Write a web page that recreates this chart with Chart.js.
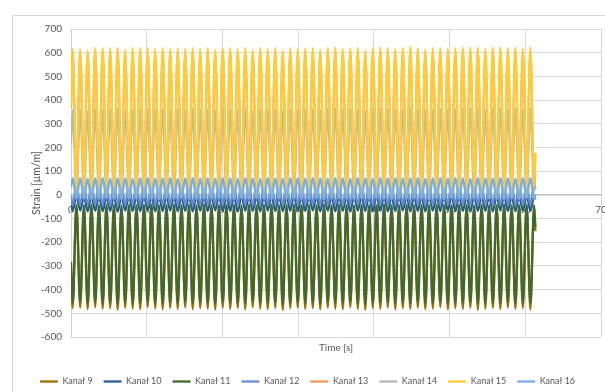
<!DOCTYPE html>
<html>
<head>
<meta charset="utf-8">
<script src="https://cdn.jsdelivr.net/npm/chart.js@4"></script>
<style>
  html, body { margin: 0; padding: 0; background: #fff; }
</style>
</head>
<body>
<canvas id="myChart" width="605" height="392"></canvas>
<script>
// channel names, legend order
const channels = ['Kanał 9', 'Kanał 10', 'Kanał 11', 'Kanał 12', 'Kanał 13', 'Kanał 14', 'Kanał 15', 'Kanał 16'];
const colors = ['#997300', '#255E91', '#43682B', '#698ED0', '#F1975A', '#B7B7B7', '#FFCD33', '#7CAFDD'];

// timing of the load cycles (s)
const firstPeak = 0.22;
const period = 0.991;
const lastTime = 61.33;

// value at t = 0 and at the last sample, per channel
const startVals = [-302, -41, -283, -5, 369, 214, 378, 33];
const endVals = [-153, -19, -138, 25, 175, 91, 173, 3];

// strain at each cycle, A = when Kanał 15 peaks, B = half a cycle later
const k9A = [-478,-476,-482,-474,-480,-479,-485,-476,-480,-482,-473,-479,-483,-477,-481,-475,-482,-478,-480,-484,-476,-481,-478,-483,-474,-480,-482,-477,-486,-479,-476,
             -481,-478,-483,-476,-480,-482,-474,-481,-485,-477,-480,-475,-483,-478,-481,-476,-482,-480,-474,-483,-478,-481,-476,-485,-480,-477,-482,-475,-481,-478,-484];
const k9B = [-52,-54,-50,-53,-51,-52,-55,-51,-53,-52,-50,-54,-52,-51,-53,-52,-54,-50,-52,-53,-51,-52,-55,-51,-53,-52,-50,-54,-52,-51,-53,
             -52,-54,-50,-53,-51,-52,-55,-51,-53,-52,-50,-54,-52,-51,-53,-52,-54,-50,-52,-53,-51,-52,-55,-51,-53,-52,-50,-54,-52,-51,-53];
const k10A = [-68,-66,-70,-67,-69,-68,-71,-66,-68,-69,-67,-70,-68,-66,-69,-68,-70,-67,-68,-66,-69,-68,-71,-67,-68,-70,-66,-68,-69,-67,-68,
              -68,-66,-70,-67,-69,-68,-71,-66,-68,-69,-67,-70,-68,-66,-69,-68,-70,-67,-68,-66,-69,-68,-71,-67,-68,-70,-66,-68,-69,-67,-68];
const k10B = [-4,-5,-3,-4,-6,-4,-3,-5,-4,-2,-4,-5,-3,-4,-6,-4,-3,-5,-4,-2,-4,-5,-3,-4,-6,-4,-3,-5,-4,-2,-4,
              -4,-5,-3,-4,-6,-4,-3,-5,-4,-2,-4,-5,-3,-4,-6,-4,-3,-5,-4,-2,-4,-5,-3,-4,-6,-4,-3,-5,-4,-2,-4];
const k11A = [-455,-452,-458,-450,-456,-454,-460,-452,-455,-457,-450,-455,-458,-453,-456,-451,-457,-454,-455,-459,-452,-456,-454,-458,-450,-455,-457,-453,-460,-455,-452,
              -456,-454,-458,-452,-455,-457,-450,-456,-459,-453,-455,-451,-458,-454,-456,-452,-457,-455,-450,-458,-454,-456,-452,-459,-455,-453,-457,-451,-456,-454,-458];
const k11B = [-42,-44,-40,-43,-41,-42,-45,-41,-43,-42,-40,-44,-42,-41,-43,-42,-44,-40,-42,-43,-41,-42,-45,-41,-43,-42,-40,-44,-42,-41,-43,
              -42,-44,-40,-43,-41,-42,-45,-41,-43,-42,-40,-44,-42,-41,-43,-42,-44,-40,-42,-43,-41,-42,-45,-41,-43,-42,-40,-44,-42,-41,-43];
const k12A = [-42,-40,-43,-41,-42,-44,-41,-42,-40,-43,-42,-41,-43,-42,-40,-42,-43,-41,-42,-40,-43,-42,-41,-42,-44,-41,-42,-40,-43,-42,-41,
              -42,-40,-43,-41,-42,-44,-41,-42,-40,-43,-42,-41,-43,-42,-40,-42,-43,-41,-42,-40,-43,-42,-41,-42,-44,-41,-42,-40,-43,-42,-41];
const k12B = [46,45,47,46,44,46,47,45,46,48,46,45,47,46,44,46,47,45,46,48,46,45,47,46,44,46,47,45,46,48,46,
              46,45,47,46,44,46,47,45,46,48,46,45,47,46,44,46,47,45,46,48,46,45,47,46,44,46,47,45,46,48,46];
const k13A = [598,600,594,602,601,600,603,596,600,602,601,598,602,599,601,598,603,599,601,596,602,601,599,603,595,601,599,602,594,601,599,
              602,601,596,603,605,599,602,601,595,603,605,602,598,601,608,602,596,601,603,598,602,605,604,606,598,605,604,601,605,598,604];
const k13B = [46,48,44,47,50,45,47,44,48,46,45,49,46,44,47,45,48,46,44,47,45,49,46,45,48,44,46,47,45,48,46,
              44,47,45,49,46,45,48,44,46,47,45,48,46,44,47,45,49,46,45,48,44,46,47,45,48,46,44,47,45,49,46];
const k14A = [358,360,352,362,361,360,363,355,360,362,361,357,362,359,361,357,363,359,361,355,362,361,359,363,353,361,359,362,352,361,359,
              362,361,355,363,365,359,362,361,354,363,365,362,357,361,368,362,355,361,363,357,362,365,364,366,357,365,364,361,365,357,364];
const k14B = [8,10,6,9,12,7,9,6,10,8,7,11,8,6,9,7,10,8,6,9,7,11,8,7,10,6,8,9,7,10,8,
              6,9,7,11,8,7,10,6,8,9,7,10,8,6,9,7,11,8,7,10,6,8,9,7,10,8,6,9,7,11,8];
const k15A = [615,615,608,619,619,619,619,612,619,619,619,615,619,615,619,615,619,615,619,612,619,619,615,619,610,619,615,619,608,619,615,
              619,619,612,619,622,615,619,619,610,619,622,619,615,619,626,619,612,619,619,615,619,622,622,622,615,622,622,619,622,615,622];
const k15B = [36,38,34,37,40,35,37,34,38,36,35,39,36,34,37,35,38,36,34,37,35,39,36,35,38,34,36,37,35,38,36,
              34,37,35,39,36,35,38,34,36,37,35,38,36,34,37,35,39,36,35,38,34,36,37,35,38,36,34,37,35,39,36];
const k16A = [70,71,68,70,72,69,70,71,68,70,71,69,70,72,68,70,71,69,70,68,71,70,69,72,70,68,71,70,69,71,70,
              69,71,70,68,72,70,69,71,70,68,71,70,72,69,70,71,68,70,71,69,72,70,68,71,70,69,71,70,68,71,72];
const k16B = [-18,-17,-19,-18,-16,-18,-19,-17,-18,-16,-18,-19,-17,-18,-16,-18,-19,-17,-18,-16,-18,-19,-17,-18,-16,-18,-19,-17,-18,-16,-18,
              -18,-17,-19,-18,-16,-18,-19,-17,-18,-16,-18,-19,-17,-18,-16,-18,-19,-17,-18,-16,-18,-19,-17,-18,-16,-18,-19,-17,-18,-16,-18];

const valuesA = [k9A, k10A, k11A, k12A, k13A, k14A, k15A, k16A];
const valuesB = [k9B, k10B, k11B, k12B, k13B, k14B, k15B, k16B];

function points(i) {
  const pts = [{x: 0, y: startVals[i]}];
  for (let k = 0; k < valuesA[i].length; k++) {
    const t = firstPeak + k * period;
    pts.push({x: t, y: valuesA[i][k]});
    pts.push({x: t + period / 2, y: valuesB[i][k]});
  }
  pts.push({x: lastTime, y: endVals[i]});
  return pts;
}

// grey frame round the whole chart, like the Excel chart area
const frame = {
  id: 'frame',
  beforeDraw(chart) {
    const c = chart.ctx;
    c.save();
    c.fillStyle = '#fff';
    c.fillRect(0, 0, chart.width, chart.height);
    c.strokeStyle = '#d9d9d9';
    c.lineWidth = 1;
    c.strokeRect(12.5, 15.5, 640, 420);
    c.restore();
  }
};

Chart.defaults.font.family = 'Lato, "Open Sans", sans-serif';
Chart.defaults.color = '#595959';

const ctx = document.getElementById('myChart');
new Chart(ctx, {
  type: 'line',
  data: {
    datasets: channels.map((name, i) => ({
      label: name,
      data: points(i),
      borderColor: colors[i],
      backgroundColor: colors[i],
      borderWidth: 2.3,
      pointRadius: 0,
      cubicInterpolationMode: 'monotone',
      order: channels.length - i,   // later channels on top
      xAxisID: 'x'
    }))
  },
  options: {
    responsive: false,
    animation: false,
    layout: { padding: { left: 14, right: 4, top: 29, bottom: -4 } },
    scales: {
      x: {
        type: 'linear', position: 'bottom', min: 0, max: 70,
        ticks: { display: false, stepSize: 10 },
        grid: { color: '#d9d9d9', drawTicks: false },
        border: { display: false },
        title: { display: true, text: 'Time [s]', font: { size: 10 }, padding: { top: 0, bottom: 12 } },
        afterFit(s) { s.height = 29; }
      },
      x2: {
        type: 'linear', axis: 'x', position: { y: 0 }, min: 0, max: 70,
        ticks: { stepSize: 10, font: { size: 10 }, padding: 9 },
        grid: { display: false, drawTicks: false },
        border: { color: '#bfbfbf', width: 1.5 },
        afterFit(s) { s.paddingLeft = 0; s.paddingRight = 0; }
      },
      y: {
        min: -600, max: 700,
        ticks: { stepSize: 100, font: { size: 10 }, padding: 9 },
        grid: { color: '#d9d9d9', drawTicks: false },
        border: { color: '#d0d0d0' },
        title: { display: true, text: 'Strain [µm/m]', font: { size: 10.5 }, padding: { top: 16, bottom: 0 } },
        afterFit(s) { s.width = 57; }
      }
    },
    plugins: {
      legend: {
        position: 'bottom',
        labels: {
          usePointStyle: true, pointStyle: 'line', pointStyleWidth: 18,
          font: { size: 9 }, padding: 11,
          sort: (a, b) => a.datasetIndex - b.datasetIndex
        }
      },
      tooltip: { enabled: false }
    }
  },
  plugins: [frame]
});
</script>
</body>
</html>
